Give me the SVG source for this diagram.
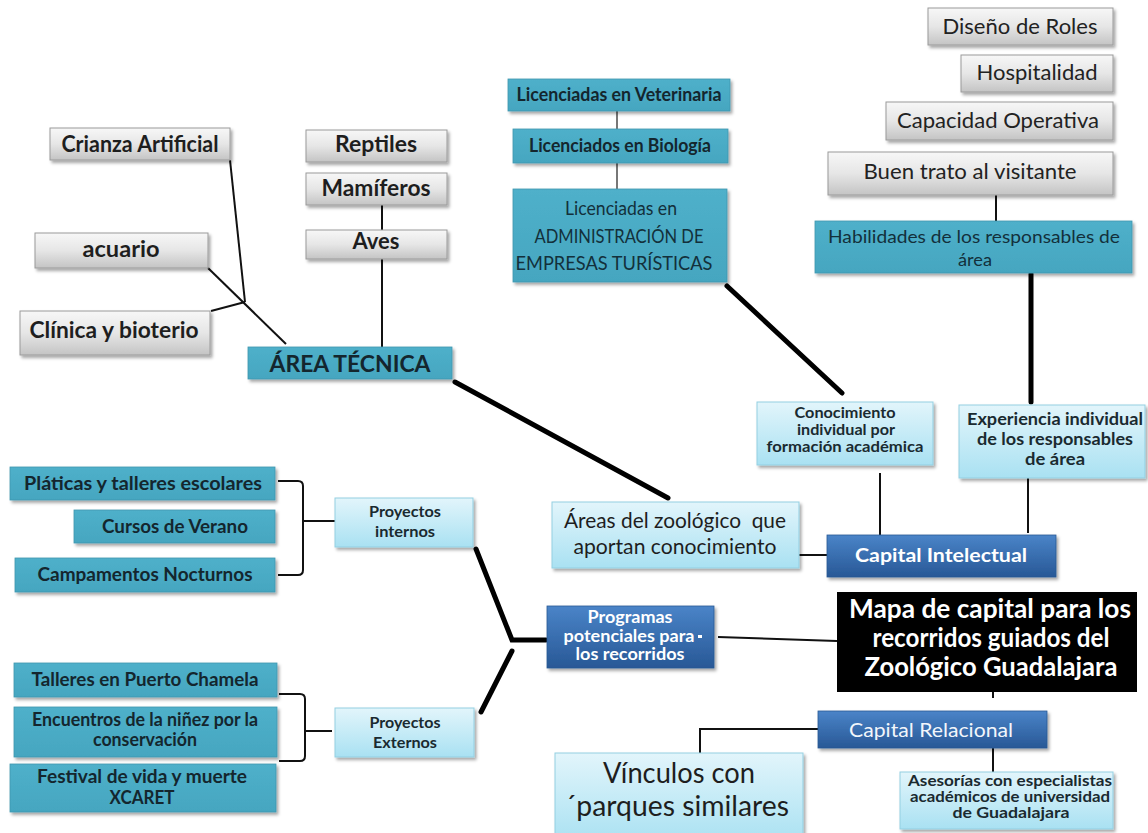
<svg xmlns="http://www.w3.org/2000/svg" width="1148" height="833" viewBox="0 0 1148 833">
<defs>
<linearGradient id="gGray" x1="0" y1="0" x2="0" y2="1"><stop offset="0" stop-color="#f7f7f7"/><stop offset="0.5" stop-color="#e6e6e6"/><stop offset="1" stop-color="#c4c4c4"/></linearGradient>
<linearGradient id="gLight" x1="0" y1="0" x2="0" y2="1"><stop offset="0" stop-color="#e2f5fb"/><stop offset="1" stop-color="#a9e1f2"/></linearGradient>
<linearGradient id="gDark" x1="0" y1="0" x2="0" y2="1"><stop offset="0" stop-color="#4a84c8"/><stop offset="1" stop-color="#285896"/></linearGradient>
<linearGradient id="gTeal" x1="0" y1="0" x2="0" y2="1"><stop offset="0" stop-color="#4fb0ca"/><stop offset="1" stop-color="#45a6c0"/></linearGradient>
<filter id="sh" x="-10%" y="-20%" width="125%" height="150%"><feDropShadow dx="2" dy="2.5" stdDeviation="1.6" flood-color="#000" flood-opacity="0.35"/></filter>
</defs>
<style>
text{font-family:Lato,"Open Sans","Liberation Sans",sans-serif;text-anchor:middle;white-space:pre}
.gray{fill:url(#gGray);stroke:#9a9a9a;stroke-width:1;filter:url(#sh)}
.teal{fill:url(#gTeal);stroke:#3f97ae;stroke-width:0.8;filter:url(#sh)}
.light{fill:url(#gLight);stroke:#93cfe2;stroke-width:1;filter:url(#sh)}
.dark{fill:url(#gDark);stroke:#2a5a94;stroke-width:0.8;filter:url(#sh)}
.black{fill:#000}
.tg{fill:#1e1e1e;font-weight:700}
.tgr{fill:#222;font-weight:400}
.tt{fill:#14262e;font-weight:700}
.ttr{fill:#13303b;font-weight:400}
.tl{fill:#1a2a30;font-weight:700}
.tlr{fill:#1e1e1e;font-weight:400}
.tw{fill:#fff;font-weight:700}
.twr{fill:#f2f6fb;font-weight:400}
.c1{stroke:#111;stroke-width:2;fill:none}
.c2{stroke:#000;stroke-width:5;fill:none;stroke-linecap:round}
.cg{stroke:#555;stroke-width:1.6;fill:none}
</style>
<rect width="1148" height="833" fill="#fff"/>

<g id="connectors">
<line class="c1" x1="230" y1="160" x2="245" y2="302"/>
<line class="c1" x1="208" y1="268" x2="286" y2="344"/>
<line class="c1" x1="211" y1="311" x2="245" y2="302"/>
<line class="c1" x1="382" y1="205" x2="382" y2="230"/>
<line class="c1" x1="382" y1="259" x2="382" y2="347"/>
<line class="cg" x1="617" y1="111" x2="617" y2="129"/>
<line class="cg" x1="617" y1="163" x2="617" y2="189"/>
<line class="c1" x1="996" y1="195" x2="996" y2="221"/>
<line class="c2" x1="455" y1="382" x2="668" y2="498"/>
<line class="c2" x1="727" y1="286" x2="842" y2="393"/>
<line class="c2" x1="1031" y1="274" x2="1031" y2="402"/>
<line class="c1" x1="880" y1="473" x2="880" y2="535"/>
<line class="c1" x1="1028" y1="478" x2="1028" y2="533"/>
<line class="c1" x1="799" y1="555" x2="827" y2="555"/>
<path class="c1" d="M278,481 H298 Q303,481 303,486 V570 Q303,575 298,575 H278"/>
<line class="c1" x1="303" y1="521" x2="335" y2="521"/>
<path class="c1" d="M279,694 H300 Q305,694 305,699 V756 Q305,761 300,761 H279"/>
<line class="c1" x1="305" y1="731" x2="332" y2="731"/>
<path class="c2" d="M476,549 L512,640 L546,640"/>
<line class="c2" x1="512" y1="651" x2="481" y2="712"/>
<line class="c1" x1="718" y1="637" x2="837" y2="641"/>
<line class="c1" x1="993" y1="692" x2="993" y2="698"/>
<line class="c1" x1="993" y1="726" x2="993" y2="772"/>
<path class="c1" d="M818,729 H700 V753"/>
</g>

<g id="crianza"><rect class="gray" x="50" y="128" width="180" height="32"/><text class="tg" x="140" y="152" font-size="22.5" textLength="157" lengthAdjust="spacingAndGlyphs">Crianza Artificial</text></g>
<g id="reptiles"><rect class="gray" x="306" y="130" width="141" height="32"/><text class="tg" x="376" y="152" font-size="22.5" textLength="82" lengthAdjust="spacingAndGlyphs">Reptiles</text></g>
<g id="mamiferos"><rect class="gray" x="306" y="173" width="141" height="32"/><text class="tg" x="376" y="196" font-size="22.5" textLength="109" lengthAdjust="spacingAndGlyphs">Mamíferos</text></g>
<g id="aves"><rect class="gray" x="306" y="230" width="141" height="29"/><text class="tg" x="376" y="249" font-size="22.5" textLength="47" lengthAdjust="spacingAndGlyphs">Aves</text></g>
<g id="acuario"><rect class="gray" x="35" y="233" width="173" height="35"/><text class="tg" x="121" y="257" font-size="22.5" textLength="77" lengthAdjust="spacingAndGlyphs">acuario</text></g>
<g id="clinica"><rect class="gray" x="20" y="311" width="190" height="44"/><text class="tg" x="114" y="338" font-size="22.5" textLength="169" lengthAdjust="spacingAndGlyphs">Clínica y bioterio</text></g>
<g id="area-tecnica"><rect class="teal" x="248" y="347" width="204" height="32"/><text class="tt" x="350" y="372" font-size="22" textLength="161" lengthAdjust="spacingAndGlyphs">ÁREA TÉCNICA</text></g>

<g id="veterinaria"><rect class="teal" x="508" y="79" width="222" height="32"/><text class="tt" x="619" y="101" font-size="18.5" textLength="205" lengthAdjust="spacingAndGlyphs">Licenciadas en Veterinaria</text></g>
<g id="biologia"><rect class="teal" x="513" y="129" width="215" height="34"/><text class="tt" x="620" y="152" font-size="18.5" textLength="182" lengthAdjust="spacingAndGlyphs">Licenciados en Biología</text></g>
<g id="administracion"><rect class="teal" x="513" y="189" width="214" height="93"/>
<text class="ttr" x="621" y="215" font-size="19.5" textLength="112" lengthAdjust="spacingAndGlyphs">Licenciadas en</text>
<text class="ttr" x="619" y="243" font-size="19.5" textLength="169" lengthAdjust="spacingAndGlyphs">ADMINISTRACIÓN DE</text>
<text class="ttr" x="614" y="270" font-size="19.5" textLength="197" lengthAdjust="spacingAndGlyphs">EMPRESAS TURÍSTICAS</text></g>

<g id="diseno"><rect class="gray" x="928" y="8" width="185" height="37"/><text class="tgr" x="1020" y="34" font-size="21.5" textLength="155" lengthAdjust="spacingAndGlyphs">Diseño de Roles</text></g>
<g id="hospitalidad"><rect class="gray" x="961" y="55" width="152" height="37"/><text class="tgr" x="1037" y="80" font-size="21.5" textLength="121" lengthAdjust="spacingAndGlyphs">Hospitalidad</text></g>
<g id="capacidad"><rect class="gray" x="886" y="102" width="227" height="38"/><text class="tgr" x="998" y="128" font-size="21.5" textLength="202" lengthAdjust="spacingAndGlyphs">Capacidad Operativa</text></g>
<g id="buen-trato"><rect class="gray" x="828" y="152" width="285" height="43"/><text class="tgr" x="970" y="179" font-size="21.5" textLength="213" lengthAdjust="spacingAndGlyphs">Buen trato al visitante</text></g>
<g id="habilidades"><rect class="teal" x="815" y="221" width="317" height="52"/>
<text class="ttr" x="974" y="243" font-size="18" textLength="292" lengthAdjust="spacingAndGlyphs">Habilidades de los responsables de</text>
<text class="ttr" x="975" y="266" font-size="18" textLength="34" lengthAdjust="spacingAndGlyphs">área</text></g>

<g id="conocimiento"><rect class="light" x="757" y="402" width="176" height="63"/>
<text class="tl" x="845" y="418" font-size="16" textLength="101" lengthAdjust="spacingAndGlyphs">Conocimiento</text>
<text class="tl" x="846" y="435" font-size="16" textLength="98" lengthAdjust="spacingAndGlyphs">individual por</text>
<text class="tl" x="845" y="452" font-size="16" textLength="157" lengthAdjust="spacingAndGlyphs">formación académica</text></g>
<g id="experiencia"><rect class="light" x="959" y="405" width="186" height="73"/>
<text class="tl" x="1055" y="425" font-size="17.5" textLength="176" lengthAdjust="spacingAndGlyphs">Experiencia individual</text>
<text class="tl" x="1055" y="445" font-size="17.5" textLength="156" lengthAdjust="spacingAndGlyphs">de los responsables</text>
<text class="tl" x="1055" y="465" font-size="17.5" textLength="60" lengthAdjust="spacingAndGlyphs">de área</text></g>
<g id="areas-zoologico"><rect class="light" x="552" y="502" width="247" height="66"/>
<text class="tlr" x="675" y="528" font-size="21.5" textLength="222" lengthAdjust="spacingAndGlyphs">Áreas del zoológico  que</text>
<text class="tlr" x="675" y="554" font-size="21.5" textLength="203" lengthAdjust="spacingAndGlyphs">aportan conocimiento</text></g>
<g id="capital-intelectual"><rect class="dark" x="827" y="535" width="229" height="42"/><text class="tw" x="941" y="562" font-size="19.5" textLength="172" lengthAdjust="spacingAndGlyphs">Capital Intelectual</text></g>

<g id="platicas"><rect class="teal" x="10" y="467" width="265" height="33"/><text class="tt" x="143" y="490" font-size="18.5" textLength="238" lengthAdjust="spacingAndGlyphs">Pláticas y talleres escolares</text></g>
<g id="cursos"><rect class="teal" x="74" y="510" width="201" height="33"/><text class="tt" x="175" y="533" font-size="18.5" textLength="146" lengthAdjust="spacingAndGlyphs">Cursos de Verano</text></g>
<g id="campamentos"><rect class="teal" x="15" y="558" width="260" height="34"/><text class="tt" x="145" y="581" font-size="18.5" textLength="215" lengthAdjust="spacingAndGlyphs">Campamentos Nocturnos</text></g>
<g id="proyectos-internos"><rect class="light" x="335" y="498" width="138" height="49"/>
<text class="tl" x="405" y="517" font-size="15.5" textLength="72" lengthAdjust="spacingAndGlyphs">Proyectos</text>
<text class="tl" x="405" y="537" font-size="15.5" textLength="60" lengthAdjust="spacingAndGlyphs">internos</text></g>

<g id="talleres"><rect class="teal" x="14" y="663" width="263" height="34"/><text class="tt" x="145" y="686" font-size="18.5" textLength="227" lengthAdjust="spacingAndGlyphs">Talleres en Puerto Chamela</text></g>
<g id="encuentros"><rect class="teal" x="14" y="707" width="263" height="50"/>
<text class="tt" x="145" y="726" font-size="18" textLength="226" lengthAdjust="spacingAndGlyphs">Encuentros de la niñez por la</text>
<text class="tt" x="145" y="746" font-size="18" textLength="104" lengthAdjust="spacingAndGlyphs">conservación</text></g>
<g id="festival"><rect class="teal" x="10" y="764" width="266" height="48"/>
<text class="tt" x="142" y="783" font-size="18" textLength="210" lengthAdjust="spacingAndGlyphs">Festival de vida y muerte</text>
<text class="tt" x="142" y="804" font-size="18" textLength="65" lengthAdjust="spacingAndGlyphs">XCARET</text></g>
<g id="proyectos-externos"><rect class="light" x="335" y="708" width="139" height="49"/>
<text class="tl" x="405" y="728" font-size="15.5" textLength="71" lengthAdjust="spacingAndGlyphs">Proyectos</text>
<text class="tl" x="405" y="748" font-size="15.5" textLength="64" lengthAdjust="spacingAndGlyphs">Externos</text></g>

<g id="programas"><rect class="dark" x="547" y="606" width="167" height="62"/>
<text class="tw" x="630" y="623" font-size="16.5" textLength="85" lengthAdjust="spacingAndGlyphs">Programas</text>
<text class="tw" x="629" y="642" font-size="16.5" textLength="131" lengthAdjust="spacingAndGlyphs">potenciales para</text>
<text class="tw" x="630" y="660" font-size="16.5" textLength="109" lengthAdjust="spacingAndGlyphs">los recorridos</text>
<rect x="698" y="635" width="4" height="3" fill="#fff"/></g>

<g id="mapa"><rect class="black" x="837" y="592" width="300" height="100"/>
<text class="tw" x="990" y="618" font-size="26" textLength="282" lengthAdjust="spacingAndGlyphs">Mapa de capital para los</text>
<text class="tw" x="991" y="647" font-size="26" textLength="237" lengthAdjust="spacingAndGlyphs">recorridos guiados del</text>
<text class="tw" x="991" y="676" font-size="26" textLength="253" lengthAdjust="spacingAndGlyphs">Zoológico Guadalajara</text></g>

<g id="capital-relacional"><rect class="dark" x="818" y="711" width="229" height="37"/><text class="twr" x="931" y="737" font-size="19.5" textLength="164" lengthAdjust="spacingAndGlyphs">Capital Relacional</text></g>
<g id="vinculos"><rect class="light" x="555" y="753" width="248" height="90"/>
<text class="tlr" x="679" y="783" font-size="28" textLength="152" lengthAdjust="spacingAndGlyphs">Vínculos con</text>
<text class="tlr" x="677" y="816" font-size="28" textLength="224" lengthAdjust="spacingAndGlyphs">´parques similares</text></g>
<g id="asesorias"><rect class="light" x="900" y="772" width="213" height="57"/>
<text class="tl" x="1010" y="786" font-size="14.5" textLength="204" lengthAdjust="spacingAndGlyphs">Asesorías con especialistas</text>
<text class="tl" x="1010" y="802" font-size="14.5" textLength="200" lengthAdjust="spacingAndGlyphs">académicos de universidad</text>
<text class="tl" x="1011" y="818" font-size="14.5" textLength="117" lengthAdjust="spacingAndGlyphs">de Guadalajara</text></g>
</svg>
